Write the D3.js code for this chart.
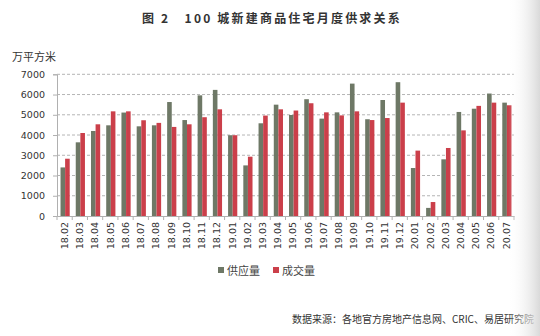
<!DOCTYPE html>
<html>
<head>
<meta charset="utf-8">
<script src="https://cdn.jsdelivr.net/npm/d3@7/dist/d3.min.js"></script>
<style>
  html, body { margin: 0; padding: 0; background: #fff; }
  svg { display: block; }
</style>
</head>
<body>
<svg id="chart" width="540" height="336"></svg>
<script>
// Months covered by the series
const months = ["18.02","18.03","18.04","18.05","18.06","18.07","18.08","18.09","18.10","18.11","18.12",
  "19.01","19.02","19.03","19.04","19.05","19.06","19.07","19.08","19.09","19.10","19.11","19.12",
  "20.01","20.02","20.03","20.04","20.05","20.06","20.07"];

// Monthly new supply (10k m²)
const supply = [2400,3640,4200,4480,5110,4430,4480,5630,4740,5960,6230,
  3990,2500,4580,5500,4990,5770,4810,5120,6540,4780,5730,6610,
  2370,400,2800,5140,5300,6050,5600];

// Monthly transactions (10k m²)
const sales = [2830,4100,4530,5170,5170,4730,4600,4400,4530,4880,5270,
  3990,2930,4960,5270,5210,5570,5120,4970,5170,4740,4840,5600,
  3230,690,3360,4230,5440,5600,5470];

const yTicks = [0,1000,2000,3000,4000,5000,6000,7000];
const seriesNames = ["供应量","成交量"];
const colors = ["#6e7866","#cb3f4a"];

const svg = d3.select("#chart");
const font = "'DejaVu Sans', Verdana, sans-serif";
const cjk = "'Noto Sans CJK SC', sans-serif";

const m = { left: 57, right: 514, top: 74.3, bottom: 216 };

const x = d3.scaleBand().domain(months).range([m.left, m.right]).paddingInner(0).paddingOuter(0);
const y = d3.scaleLinear().domain([0, 7000]).range([m.bottom, m.top]);

// Right-edge page shading
const defs = svg.append("defs");
const grad = defs.append("linearGradient").attr("id", "edge").attr("x1", 0).attr("x2", 1).attr("y1", 0).attr("y2", 0);
grad.append("stop").attr("offset", 0).attr("stop-color", "#ffffff").attr("stop-opacity", 0);
grad.append("stop").attr("offset", 1).attr("stop-color", "#d9d9d9").attr("stop-opacity", 1);

// Title
svg.append("text")
  .attr("x", 272).attr("y", 23)
  .attr("text-anchor", "middle")
  .attr("font-family", cjk)
  .attr("font-weight", "bold")
  .attr("font-size", 12)
  .attr("letter-spacing", 2.2)
  .attr("fill", "#333")
  .text("图 2　100 城新建商品住宅月度供求关系");

// Unit label
svg.append("text")
  .attr("x", 12).attr("y", 61)
  .attr("font-family", cjk)
  .attr("font-size", 11)
  .attr("fill", "#333")
  .text("万平方米");

// Gridlines
svg.append("g")
  .selectAll("line")
  .data(yTicks.filter(d => d > 0))
  .join("line")
  .attr("x1", m.left).attr("x2", m.right)
  .attr("y1", d => y(d)).attr("y2", d => y(d))
  .attr("stroke", "#b5b5b5")
  .attr("stroke-dasharray", "3,2")
  .attr("stroke-width", 1);

// Y axis
const yAxis = svg.append("g")
  .attr("transform", `translate(${m.left},0)`)
  .call(d3.axisLeft(y).tickValues(yTicks).tickSize(4).tickPadding(8).tickFormat(d3.format("d")));
yAxis.select(".domain").attr("stroke", "#b0b0b0");
yAxis.selectAll(".tick line").attr("stroke", "#b0b0b0");
yAxis.selectAll("text").attr("font-family", font).attr("font-size", 9.5).attr("fill", "#333");

// Bars
const sub = d3.scaleBand().domain([0, 1]).range([0, 9.2]);
const offset = (x.bandwidth() - 9.2) / 2 + 0.5;
const groups = svg.append("g")
  .selectAll("g")
  .data(months)
  .join("g")
  .attr("transform", d => `translate(${x(d) + offset},0)`);

groups.append("rect")
  .attr("x", sub(0)).attr("width", sub.bandwidth())
  .attr("y", (d, i) => y(supply[i]))
  .attr("height", (d, i) => y(0) - y(supply[i]))
  .attr("fill", colors[0]);

groups.append("rect")
  .attr("x", sub(1)).attr("width", sub.bandwidth())
  .attr("y", (d, i) => y(sales[i]))
  .attr("height", (d, i) => y(0) - y(sales[i]))
  .attr("fill", colors[1]);

// X axis
const xAxis = svg.append("g")
  .attr("transform", `translate(0,${m.bottom})`)
  .call(d3.axisBottom(x).tickSize(0).tickPadding(0));
xAxis.select(".domain").attr("stroke", "#b0b0b0");
xAxis.selectAll(".tick text")
  .attr("font-family", font)
  .attr("font-size", 9.5)
  .attr("fill", "#333")
  .attr("text-anchor", "end")
  .attr("dy", "0.35em")
  .attr("transform", "translate(0,6) rotate(-90)");

// Band boundary ticks
svg.append("g")
  .selectAll("line")
  .data(months.map(d => x(d)).concat([m.right]))
  .join("line")
  .attr("x1", d => d).attr("x2", d => d)
  .attr("y1", m.bottom).attr("y2", m.bottom + 4)
  .attr("stroke", "#b0b0b0");

// Legend
const legend = svg.append("g").attr("transform", "translate(218,271)");
seriesNames.forEach((name, i) => {
  const g = legend.append("g").attr("transform", `translate(${i * 55},0)`);
  g.append("rect").attr("x", 0).attr("y", -4).attr("width", 6).attr("height", 6).attr("fill", colors[i]);
  g.append("text")
    .attr("x", 9).attr("y", 0)
    .attr("dy", "0.35em")
    .attr("font-family", cjk)
    .attr("font-size", 11)
    .attr("fill", "#444")
    .text(name);
});

// Source note
svg.append("text")
  .attr("x", 534).attr("y", 323)
  .attr("text-anchor", "end")
  .attr("font-family", cjk)
  .attr("font-size", 10)
  .attr("fill", "#333")
  .text("数据来源：各地官方房地产信息网、CRIC、易居研究院");

// Page edge shading
svg.append("rect")
  .attr("x", 508).attr("y", 0).attr("width", 32).attr("height", 336)
  .attr("fill", "url(#edge)")
  .attr("pointer-events", "none");
</script>
</body>
</html>
